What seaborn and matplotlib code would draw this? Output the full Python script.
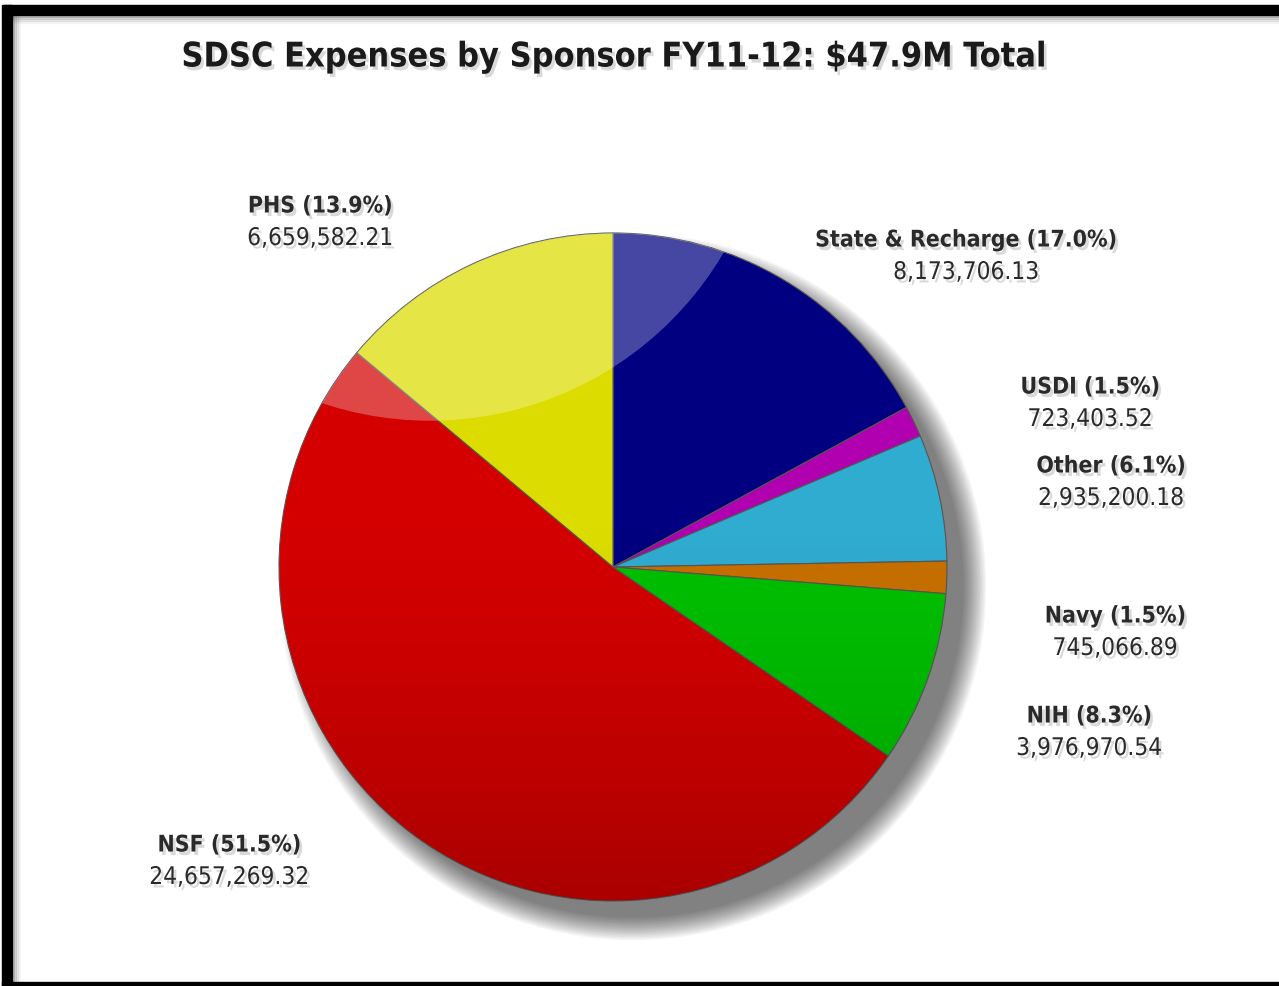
import numpy as np
import matplotlib
matplotlib.use('Agg')
import matplotlib.pyplot as plt
import matplotlib.patheffects as pe
from matplotlib.patches import Circle, Rectangle
import seaborn as sns

sns.set_theme(style='white')
plt.rcParams['font.family'] = ['DejaVu Sans']

# data
sponsors = ['State & Recharge', 'USDI', 'Other', 'Navy', 'NIH', 'NSF', 'PHS']
amounts = [8173706.13, 723403.52, 2935200.18, 745066.89, 3976970.54, 24657269.32, 6659582.21]
percent_labels = ['17.0%', '1.5%', '6.1%', '1.5%', '8.3%', '51.5%', '13.9%']
amount_labels = ['8,173,706.13', '723,403.52', '2,935,200.18', '745,066.89',
                 '3,976,970.54', '24,657,269.32', '6,659,582.21']
colors = ['#000080', '#b000b0', '#30acd0', '#c87000', '#00c000', '#d40000', '#dcdc00']

title = 'SDSC Expenses by Sponsor FY11-12: $47.9M Total'

# label anchor points in pixels (x centre, y of first line), layout only
label_pos = [(966, 240), (1090, 387), (1111, 466), (1115, 616),
             (1089, 716), (229, 845), (320, 206)]

W, H = 1279, 986
fig = plt.figure(figsize=(W / 100, H / 100), dpi=100)
fig.patch.set_facecolor('white')

# frame
def fig_rect(x0, y0, x1, y1, color, alpha=1.0):
    fig.patches.append(Rectangle((x0 / W, 1 - y1 / H), (x1 - x0) / W, (y1 - y0) / H,
                                 transform=fig.transFigure, color=color, alpha=alpha,
                                 zorder=0))

for i, a in enumerate([0.35, 0.22, 0.12, 0.05]):
    fig_rect(12, 15 + i * 2, W, 17 + i * 2, 'gray', a)
    fig_rect(12 + i * 2, 15, 14 + i * 2, 982, 'gray', a)
fig_rect(4, 5, W, 15, 'black')
fig_rect(2, 5, 12, H, 'black')
fig_rect(2, 982, W, H, 'black')

# pie axes
cx, cy, r = 613, 567, 334
ax = fig.add_axes([(cx - r) / W, 1 - (cy + r) / H, 2 * r / W, 2 * r / H])
ax.set_aspect('equal')
ax.axis('off')

# drop shadow
for k in range(16):
    rad = 0.99 + 0.0045 * k
    ax.add_patch(Circle((0.06, -0.06), rad, color='black', alpha=0.04,
                        lw=0, zorder=0, clip_on=False))

wedges, _ = ax.pie(amounts, colors=colors, startangle=90, counterclock=False,
                   wedgeprops=dict(edgecolor='#555555', linewidth=0.8),
                   radius=1.0)
for w in wedges:
    w.set_zorder(2)

# glossy highlight clipped to pie
clip = Circle((0, 0), 1.0, transform=ax.transData)
hl = Circle((-0.548, 1.458), 1.02, color='white', alpha=0.28, lw=0, zorder=3)
ax.add_patch(hl)
hl.set_clip_path(clip)

# soft darkening towards the bottom (row 0 = top)
grad = np.linspace(0, 1, 256).reshape(-1, 1)
rgba = np.zeros((256, 1, 4))
rgba[..., 3] = np.clip((grad - 0.4) / 0.6, 0, 1) ** 1.5 * 0.2
im = ax.imshow(rgba, extent=(-1, 1, -1, 1), origin='upper', aspect='auto',
               zorder=3, interpolation='bilinear')
im.set_clip_path(clip)

ax.set_xlim(-1, 1)
ax.set_ylim(-1, 1)

shadow = [pe.withSimplePatchShadow(offset=(2, -2.5), shadow_rgbFace='black', alpha=0.15)]

fig.text(614 / W, 1 - 57 / H, title, ha='center', va='center', fontsize=24.5,
         fontweight='bold', fontstretch='condensed', color='#1a1a1a',
         path_effects=shadow)

for name, pct, amt, (x, y) in zip(sponsors, percent_labels, amount_labels, label_pos):
    fig.text(x / W, 1 - y / H, f'{name} ({pct})', ha='center', va='center',
             fontsize=16.5, fontweight='bold', fontstretch='condensed', color='#2a2a2a',
             path_effects=shadow)
    fig.text(x / W, 1 - (y + 32) / H, amt, ha='center', va='center',
             fontsize=17.5, fontstretch='condensed', color='#2a2a2a', path_effects=shadow)

fig.savefig('out.png', dpi=100)
